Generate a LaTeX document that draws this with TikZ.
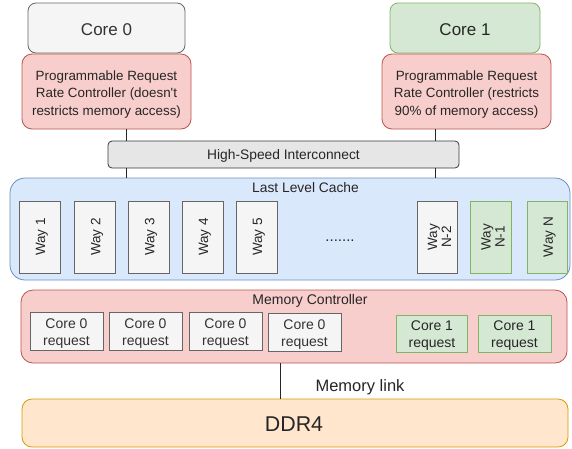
\documentclass[tikz,border=0pt]{standalone}
\usepackage{fontspec}
\setmainfont{Liberation Sans}[Ligatures=TeXOff]
\definecolor{grayfill}{HTML}{F5F5F5}
\definecolor{graydraw}{HTML}{666666}
\definecolor{graytext}{HTML}{333333}
\definecolor{greenfill}{HTML}{D5E8D4}
\definecolor{greendraw}{HTML}{82B366}
\definecolor{redfill}{HTML}{F8CECC}
\definecolor{reddraw}{HTML}{B85450}
\definecolor{bluefill}{HTML}{DAE8FC}
\definecolor{bluedraw}{HTML}{6C8EBF}
\definecolor{orangefill}{HTML}{FFE6CC}
\definecolor{orangedraw}{HTML}{D79B00}
\definecolor{icfill}{HTML}{E6E6E6}
\definecolor{icdraw}{HTML}{36393D}
\begin{document}
\begin{tikzpicture}[x=1pt,y=-1pt,
  every node/.style={inner sep=0pt, outer sep=0pt, align=center, text=black!85},
  bx/.style={draw, line width=0.8pt},
  graybox/.style={bx, fill=grayfill, draw=graydraw},
  greenbox/.style={bx, fill=greenfill, draw=greendraw},
  redbox/.style={bx, fill=redfill, draw=reddraw},
  wayg/.style={graybox, minimum width=41pt, minimum height=72pt},
  wayn/.style={greenbox, minimum width=41pt, minimum height=72pt},
  waytxt/.style={rotate=90, font=\fontsize{13.5}{14}\selectfont},
  reqg/.style={graybox, minimum width=73pt, minimum height=38pt},
  reqn/.style={greenbox, minimum width=71pt, minimum height=37pt},
  reqtxt/.style={font=\fontsize{14}{17}\selectfont},
  ctrl/.style={redbox, rounded corners=10pt, minimum width=169pt, minimum height=75pt},
  ctrltxt/.style={font=\fontsize{13.4}{17.5}\selectfont},
  conn/.style={draw=black!85, line width=1pt}
]
\useasboundingbox (0,0) rectangle (572,448);

% cores
\node[graybox, rounded corners=8pt, minimum width=157pt, minimum height=50pt] (core0) at (106.5,28) {};
\node[font=\fontsize{17}{20}\selectfont, text=graytext] (core0t) at ([yshift=-2pt]core0.center) {Core 0};
\node[greenbox, rounded corners=8pt, minimum width=150pt, minimum height=50pt] (core1) at (465,28) {};
\node[font=\fontsize{17}{20}\selectfont] (core1t) at ([yshift=-2pt]core1.center) {Core 1};
\node[ctrl] (rc0) at (106.5,91.5) {};
\node[ctrltxt] (rc0t) at ([yshift=-3pt]rc0.center) {Programmable Request\\Rate Controller (doesn't\\restricts memory access)};
\node[ctrl] (rc1) at (466.5,91.5) {};
\node[ctrltxt] (rc1t) at ([yshift=-3pt]rc1.center) {Programmable Request\\Rate Controller (restricts\\90\% of memory access)};

% interconnect
\node[bx, fill=icfill, draw=icdraw, rounded corners=4pt, minimum width=351pt, minimum height=27pt] (ic) at (283.5,154.5) {};
\node[font=\fontsize{13.8}{16}\selectfont] (ict) at ([yshift=-1.5pt]ic.center) {High-Speed Interconnect};

% LLC
\node[bx, fill=bluefill, draw=bluedraw, rounded corners=15pt, minimum width=560pt, minimum height=102pt] (llc) at (290,229) {};
\node[font=\fontsize{13.8}{16}\selectfont] (llct) at (305.5,188) {Last Level Cache};

\node[wayg] (w1) at (39.5,237) {};
\node[wayg] (w2) at (94.5,237) {};
\node[wayg] (w3) at (148.5,237) {};
\node[wayg] (w4) at (202.5,237) {};
\node[wayg] (w5) at (256.5,237) {};
\node[wayg, minimum width=40pt] (wn2) at (437,237) {};
\node[wayn] (wn1) at (490.5,237) {};
\node[wayn, minimum width=40pt] (wn) at (547,237) {};
\foreach \w/\t in {w1/Way 1, w2/Way 2, w3/Way 3, w4/Way 4, w5/Way 5, wn2/Way\\N-2, wn1/Way\\N-1, wn/Way N}
  \node[waytxt] (\w t) at ([xshift=2.5pt]\w.center) {\t};
\node[font=\fontsize{15}{16}\selectfont] (dots) at (340,241) {.......};

% connectors top
\coordinate (l0) at (126,0);
\coordinate (l1) at (435,0);
\draw[conn] (rc0.south -| l0) -- (ic.north -| l0);
\draw[conn] (ic.south -| l0) -- (llc.north -| l0);
\draw[conn] (rc1.south -| l1) -- (ic.north -| l1);
\draw[conn] (ic.south -| l1) -- (llc.north -| l1);

% memory controller
\node[redbox, rounded corners=12pt, minimum width=546pt, minimum height=73pt] (mc) at (294,326.5) {};
\node[font=\fontsize{14}{16}\selectfont] (mct) at (310,301) {Memory Controller};
\node[reqg] (r1) at (66.5,331) {};
\node[reqg] (r2) at (145.5,331) {};
\node[reqg] (r3) at (225.5,331) {};
\node[reqg] (r4) at (304.5,332) {};
\node[reqn] (r5) at (432,333.5) {};
\node[reqn, minimum width=73pt] (r6) at (514.5,333.5) {};
\foreach \r in {r1,r2,r3,r4}
  \node[reqtxt, text=graytext] (\r t) at ([yshift=-2.5pt]\r.center) {Core 0\\request};
\foreach \r in {r5,r6}
  \node[reqtxt] (\r t) at ([yshift=-2.5pt]\r.center) {Core 1\\request};

% DDR4
\node[bx, fill=orangefill, draw=orangedraw, rounded corners=10pt, minimum width=546pt, minimum height=48pt] (ddr) at (295,423) {};
\node[font=\fontsize{21.4}{24}\selectfont] (ddrt) at (294,424) {DDR4};

\coordinate (ml) at (280,0);
\draw[conn] (mc.south -| ml) -- (ddr.north -| ml);
\node[font=\fontsize{16.5}{18}\selectfont] (mlt) at (360,387) {Memory link};
\end{tikzpicture}
\end{document}
